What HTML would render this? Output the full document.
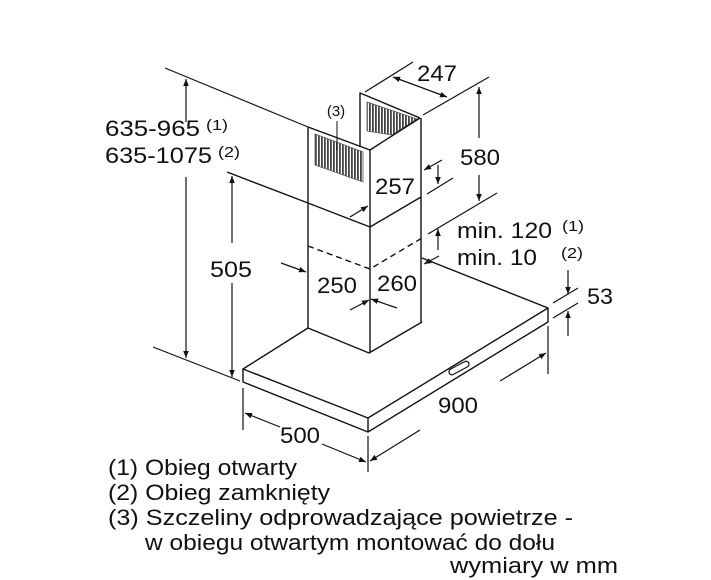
<!DOCTYPE html>
<html><head><meta charset="utf-8"><style>
html,body{margin:0;padding:0;background:#fff}
svg{display:block}
text{font-family:"Liberation Sans",sans-serif;fill:#111}
</style></head><body>
<svg width="711" height="580" viewBox="0 0 711 580" xmlns="http://www.w3.org/2000/svg">
<defs>
<marker id="a" viewBox="0 0 10 10" refX="10" refY="5" markerWidth="9" markerHeight="7" orient="auto" markerUnits="userSpaceOnUse"><path d="M0,1 L10,5 L0,9 z" fill="#111"/></marker>
<pattern id="h" width="3" height="10" patternUnits="userSpaceOnUse"><rect width="3" height="10" fill="#fff"/><rect width="1.8" height="10" fill="#444"/></pattern>
</defs>
<g stroke="#111" stroke-width="1.4" fill="none" stroke-linejoin="round">
<polyline points="360,147 360,93 420,118"/>
<polygon points="367,102 417,119 392,135 367,131" fill="url(#h)" stroke="#555" stroke-width="0.8"/>
<polyline points="308,127 370,150 420,118"/>
<line x1="308" y1="127" x2="308" y2="328"/>
<line x1="370" y1="150" x2="370" y2="353"/>
<line x1="421" y1="118" x2="421" y2="322"/>
<polygon points="315,134 363,152 363,182 315,165" fill="url(#h)" stroke="#555" stroke-width="0.8"/>
<line x1="337" y1="121" x2="337" y2="150" stroke-width="1"/>
<polyline points="227,172 308,203 370,227 421,197"/>
<polyline points="308,246 370,269 422,238" stroke-dasharray="6,4"/>
<polyline points="308,328 369,353 422,322"/>
<polyline points="308,328 243,369 368,418 548,308 422,258"/>
<polyline points="243,369 243,382 368,432 548,322 548,308"/>
<line x1="368" y1="418" x2="368" y2="432"/>
<rect x="448" y="365" width="22" height="6" rx="3" transform="rotate(-28 459 368)" stroke-width="1.2"/>
<line x1="165" y1="68" x2="308" y2="127" stroke-width="1.2"/>
<line x1="153" y1="347" x2="240" y2="381" stroke-width="1.2"/>
<line x1="365" y1="92" x2="413" y2="62" stroke-width="1.2"/>
<line x1="423" y1="115" x2="489" y2="77" stroke-width="1.2"/>
<line x1="428" y1="234" x2="497" y2="193" stroke-width="1.2"/>
<line x1="427" y1="194" x2="453" y2="178" stroke-width="1.2"/>
<line x1="243" y1="388" x2="243" y2="430" stroke-width="1.2"/>
<line x1="368" y1="436" x2="368" y2="472" stroke-width="1.2"/>
<line x1="548" y1="326" x2="548" y2="374" stroke-width="1.2"/>
<line x1="553" y1="303" x2="578" y2="288" stroke-width="1.2"/>
<line x1="553" y1="318" x2="578" y2="303" stroke-width="1.2"/>
<g stroke-width="1.2">
<line x1="186" y1="122" x2="186" y2="79" marker-end="url(#a)"/>
<line x1="186" y1="177" x2="186" y2="358" marker-end="url(#a)"/>
<line x1="232" y1="243" x2="232" y2="176" marker-end="url(#a)"/>
<line x1="232" y1="283" x2="232" y2="377" marker-end="url(#a)"/>
<line x1="420" y1="87" x2="393" y2="77" marker-end="url(#a)"/>
<line x1="420" y1="87" x2="447" y2="97" marker-end="url(#a)"/>
<line x1="479" y1="138" x2="479" y2="87" marker-end="url(#a)"/>
<line x1="479" y1="175" x2="479" y2="201" marker-end="url(#a)"/>
<line x1="438" y1="165" x2="438" y2="184" marker-end="url(#a)"/>
<line x1="442" y1="160" x2="424" y2="170" marker-end="url(#a)"/>
<line x1="350" y1="217" x2="368" y2="206" marker-end="url(#a)"/>
<line x1="438" y1="250" x2="438" y2="229" marker-end="url(#a)"/>
<line x1="439" y1="256" x2="424" y2="264" marker-end="url(#a)"/>
<line x1="281" y1="263" x2="306" y2="272" marker-end="url(#a)"/>
<line x1="350" y1="310" x2="369" y2="300" marker-end="url(#a)"/>
<line x1="397" y1="308" x2="371" y2="299" marker-end="url(#a)"/>
<line x1="568" y1="270" x2="568" y2="294" marker-end="url(#a)"/>
<line x1="568" y1="336" x2="568" y2="311" marker-end="url(#a)"/>
<line x1="280" y1="427" x2="245" y2="413" marker-end="url(#a)"/>
<line x1="322" y1="444" x2="366" y2="462" marker-end="url(#a)"/>
<line x1="420" y1="430" x2="370" y2="461" marker-end="url(#a)"/>
<line x1="500" y1="381" x2="546" y2="353" marker-end="url(#a)"/>
</g>
</g>
<g font-size="22" lengthAdjust="spacingAndGlyphs">
<text x="105" y="136" textLength="95" lengthAdjust="spacingAndGlyphs">635-965</text><text x="206" y="130" font-size="15" textLength="22" lengthAdjust="spacingAndGlyphs">(1)</text>
<text x="105" y="163" textLength="107" lengthAdjust="spacingAndGlyphs">635-1075</text><text x="218" y="157" font-size="15" textLength="22" lengthAdjust="spacingAndGlyphs">(2)</text>
<text x="210" y="277" textLength="42" lengthAdjust="spacingAndGlyphs">505</text>
<text x="417" y="81" textLength="40" lengthAdjust="spacingAndGlyphs">247</text>
<text x="460" y="165" textLength="40" lengthAdjust="spacingAndGlyphs">580</text>
<text x="375" y="194" textLength="40" lengthAdjust="spacingAndGlyphs">257</text>
<text x="317" y="293" textLength="40" lengthAdjust="spacingAndGlyphs">250</text>
<text x="377" y="291" textLength="40" lengthAdjust="spacingAndGlyphs">260</text>
<text x="457" y="238" textLength="95" lengthAdjust="spacingAndGlyphs">min. 120</text><text x="562" y="231" font-size="15" textLength="22" lengthAdjust="spacingAndGlyphs">(1)</text>
<text x="457" y="265" textLength="80" lengthAdjust="spacingAndGlyphs">min. 10</text><text x="561" y="258" font-size="15" textLength="22" lengthAdjust="spacingAndGlyphs">(2)</text>
<text x="587" y="304" textLength="26" lengthAdjust="spacingAndGlyphs">53</text>
<text x="280" y="443" textLength="40" lengthAdjust="spacingAndGlyphs">500</text>
<text x="438" y="413" textLength="40" lengthAdjust="spacingAndGlyphs">900</text>
<text x="336" y="116" font-size="15" text-anchor="middle">(3)</text>
<text x="108" y="475" textLength="189" lengthAdjust="spacingAndGlyphs">(1) Obieg otwarty</text>
<text x="108" y="500" textLength="222" lengthAdjust="spacingAndGlyphs">(2) Obieg zamknięty</text>
<text x="108" y="525" textLength="465" lengthAdjust="spacingAndGlyphs">(3) Szczeliny odprowadzające powietrze -</text>
<text x="145" y="550" textLength="410" lengthAdjust="spacingAndGlyphs">w obiegu otwartym montować do dołu</text>
<text x="450" y="573" textLength="168" lengthAdjust="spacingAndGlyphs">wymiary w mm</text>
</g>
</svg>
</body></html>
